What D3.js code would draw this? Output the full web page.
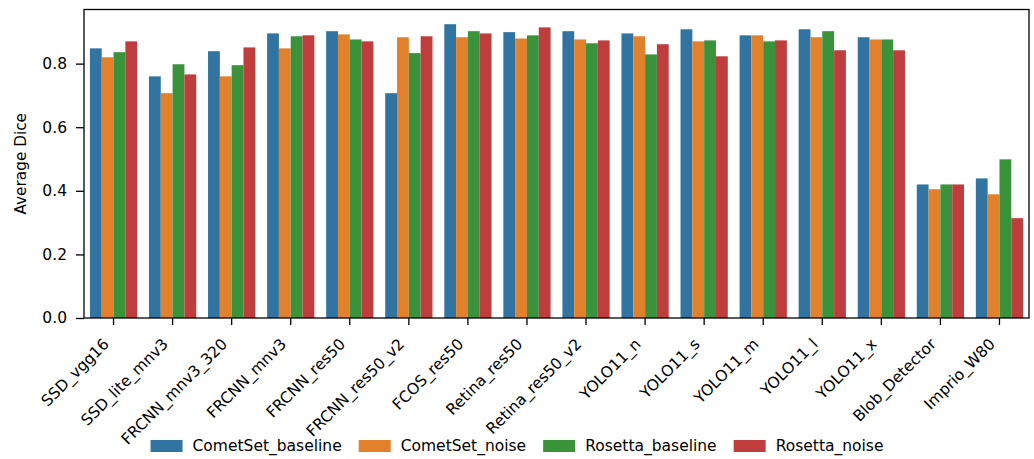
<!DOCTYPE html>
<html>
<head>
<meta charset="utf-8">
<script src="https://cdn.jsdelivr.net/npm/d3@7"></script>
<style>
  html, body { margin: 0; padding: 0; background: #fff; }
  text { font-family: "DejaVu Sans", sans-serif; fill: #000; }
</style>
</head>
<body>
<svg id="chart" width="1034" height="459"></svg>
<script>
// Detection models evaluated
const models = [
  "SSD_vgg16", "SSD_lite_mnv3", "FRCNN_mnv3_320", "FRCNN_mnv3", "FRCNN_res50",
  "FRCNN_res50_v2", "FCOS_res50", "Retina_res50", "Retina_res50_v2", "YOLO11_n",
  "YOLO11_s", "YOLO11_m", "YOLO11_l", "YOLO11_x", "Blob_Detector", "Imprio_W80"
];

// Evaluation settings (legend order)
const settings = ["CometSet_baseline", "CometSet_noise", "Rosetta_baseline", "Rosetta_noise"];

// Average Dice per model, one array per setting
const cometBaseline = [0.848, 0.760, 0.839, 0.895, 0.902, 0.707, 0.924, 0.899, 0.902, 0.895, 0.908, 0.889, 0.908, 0.883, 0.420, 0.439];
const cometNoise    = [0.820, 0.707, 0.760, 0.848, 0.892, 0.883, 0.883, 0.879, 0.876, 0.886, 0.870, 0.889, 0.883, 0.876, 0.405, 0.389];
const rosettaBase   = [0.836, 0.798, 0.795, 0.886, 0.876, 0.833, 0.902, 0.889, 0.864, 0.829, 0.873, 0.870, 0.902, 0.876, 0.420, 0.499];
const rosettaNoise  = [0.870, 0.766, 0.851, 0.889, 0.870, 0.886, 0.895, 0.914, 0.873, 0.861, 0.823, 0.873, 0.842, 0.842, 0.420, 0.314];

const seriesValues = [cometBaseline, cometNoise, rosettaBase, rosettaNoise];
const yTicks = [0.0, 0.2, 0.4, 0.6, 0.8];
const colors = ["#3274a1", "#e1812c", "#3a923a", "#c03d3e"];

const svg = d3.select("#chart");
const margin = { left: 84, right: 1034 - 1029, top: 9.5, bottom: 459 - 318 };
const W = 1034, H = 459;
const plotW = W - margin.left - margin.right;
const plotH = H - margin.top - margin.bottom;
const FS = 15.5;

const maxVal = d3.max(seriesValues.flat());
const y = d3.scaleLinear().domain([0, maxVal * 1.05]).range([plotH, 0]);
const x0 = d3.scaleBand().domain(models).range([0, plotW]).paddingInner(0.2).paddingOuter(0.1);
const x1 = d3.scaleBand().domain(settings).range([0, x0.bandwidth()]);

const g = svg.append("g").attr("transform", `translate(${margin.left},${margin.top})`);

// Bars
const rows = models.map((m, i) => ({ model: m, vals: settings.map((s, j) => ({ s, j, v: seriesValues[j][i] })) }));
const groups = g.selectAll("g.grp").data(rows).join("g")
  .attr("class", "grp")
  .attr("transform", d => `translate(${x0(d.model)},0)`);
groups.selectAll("rect").data(d => d.vals).join("rect")
  .attr("x", d => x1(d.s))
  .attr("width", x1.bandwidth())
  .attr("y", d => y(d.v))
  .attr("height", d => plotH - y(d.v))
  .attr("fill", d => colors[d.j]);

// Y axis
const yAxis = g.append("g").call(
  d3.axisLeft(y).tickValues(yTicks).tickFormat(d3.format(".1f")).tickSize(8).tickPadding(9)
);
yAxis.select(".domain").remove();
yAxis.selectAll(".tick line").attr("stroke", "#000").attr("stroke-width", 1.3);
yAxis.selectAll(".tick text").attr("font-size", FS).style("font-family", "DejaVu Sans");

// X axis ticks
const xAxis = g.append("g").attr("transform", `translate(0,${plotH})`).call(
  d3.axisBottom(x0).tickSize(7).tickFormat("")
);
xAxis.select(".domain").remove();
xAxis.selectAll(".tick line").attr("stroke", "#000").attr("stroke-width", 1.3);

// Rotated category labels
const labG = g.append("g");
labG.selectAll("text").data(models).join("text")
  .attr("transform", d => `translate(${x0(d) + x0.bandwidth() / 2 - 3.5},${plotH + 27}) rotate(-45)`)
  .attr("text-anchor", "end")
  .attr("font-size", FS)
  .text(d => d);

// Frame
g.append("rect")
  .attr("width", plotW).attr("height", plotH)
  .attr("fill", "none").attr("stroke", "#000").attr("stroke-width", 1.3);

// Y label
svg.append("text")
  .attr("transform", `translate(26,${margin.top + plotH / 2}) rotate(-90)`)
  .attr("text-anchor", "middle")
  .attr("font-size", 15.3)
  .text("Average Dice");

// Legend laid out in one row, centred on the figure
const legend = svg.append("g");
const items = legend.selectAll("g").data(settings).join("g");
items.append("rect").attr("width", 32).attr("height", 12).attr("y", -6)
  .attr("fill", (d, i) => colors[i]);
items.append("text").attr("x", 42).attr("y", 0).attr("dy", "0.35em")
  .attr("font-size", FS).text(d => d);
let cx = 0;
const gap = 17;
items.each(function () {
  const t = d3.select(this).select("text").node().getComputedTextLength();
  d3.select(this).attr("transform", `translate(${cx},0)`);
  cx += 42 + t + gap;
});
const totalW = cx - gap;
legend.attr("transform", `translate(${W / 2 - totalW / 2},446)`);
</script>
</body>
</html>
